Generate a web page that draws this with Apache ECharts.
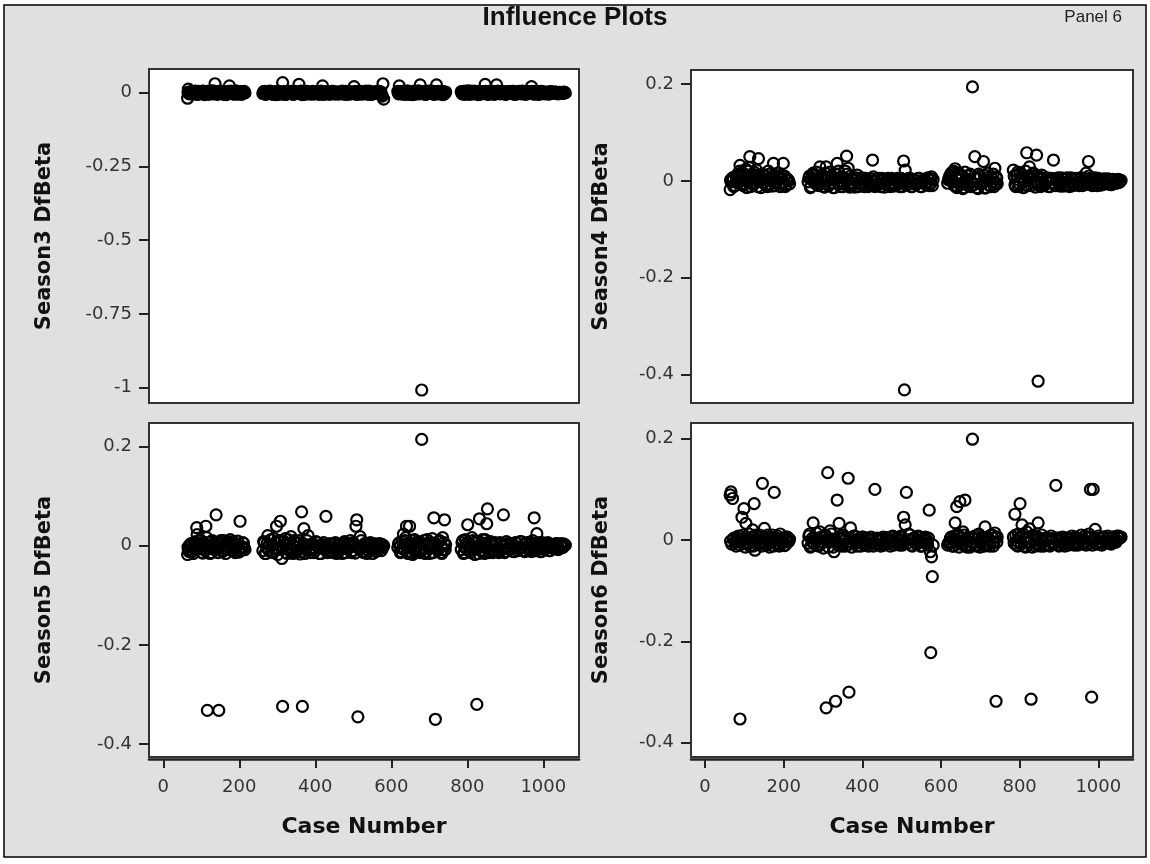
<!DOCTYPE html>
<html>
<head>
<meta charset="utf-8">
<title>Influence Plots</title>
<script src="https://cdn.jsdelivr.net/npm/echarts@6/dist/echarts.min.js"></script>
<style>
  html, body { margin: 0; padding: 0; background: #fff; }
  #chart { width: 1150px; height: 864px; }
</style>
</head>
<body>
<div id="chart"></div>
<script>
// case numbers of the observations, grouped by block of cases
const caseNumber = [
  // block 1 (38)
  64, 66, 70, 76, 82, 88, 89, 94, 99, 104, 108, 112, 114, 116, 121,
  125, 127, 131, 136, 139, 142, 146, 151, 156, 161, 166, 171, 174, 176, 181,
  186, 191, 196, 199, 202, 206, 211, 215,
  // block 2 (67)
  262, 266, 270, 275, 280, 285, 292, 298, 304, 308, 312, 314, 318, 323, 328,
  332, 336, 341, 346, 351, 357, 360, 364, 366, 370, 375, 381, 387, 393, 399,
  405, 411, 419, 426, 428, 432, 438, 444, 450, 456, 462, 468, 474, 480, 486,
  492, 498, 502, 505, 507, 509, 512, 518, 524, 530, 536, 542, 548, 554, 560,
  566, 570, 573, 574, 576, 578, 580,
  // block 3 (29)
  617, 621, 626, 632, 636, 640, 644, 648, 652, 656, 661, 666, 671, 676, 680,
  686, 691, 696, 701, 708, 712, 716, 719, 724, 730, 735, 737, 740, 743,
  // block 4 (57)
  784, 788, 792, 797, 801, 806, 812, 818, 822, 825, 829, 832, 837, 843, 847,
  851, 853, 858, 864, 870, 877, 883, 886, 892, 895, 900, 906, 912, 918, 924,
  930, 936, 942, 948, 954, 960, 966, 969, 972, 975, 976, 980, 983, 987, 992,
  997, 1003, 1009, 1015, 1021, 1027, 1033, 1039, 1045, 1051, 1055, 1058,
  // in-between cases: block 1 (26), block 2 (50), block 3 (25), block 4 (45)
  68, 73, 79, 85, 91, 97, 102, 106, 110, 118, 123, 129, 134, 144, 149,
  154, 159, 164, 169, 179, 184, 189, 194, 204, 209, 213,
  264, 268, 273, 278, 283, 289, 295, 301, 306, 316, 321, 326, 330, 339, 344,
  349, 354, 362, 368, 373, 378, 384, 390, 396, 402, 408, 415, 422, 435, 441,
  447, 453, 459, 465, 471, 477, 483, 489, 495, 500, 515, 521, 527, 533, 539,
  545, 551, 557, 563, 568,
  619, 624, 629, 634, 638, 642, 646, 650, 654, 658, 664, 669, 674, 683, 689,
  694, 699, 704, 710, 714, 722, 727, 733, 739, 742,
  786, 790, 795, 799, 804, 809, 815, 820, 827, 835, 840, 845, 849, 856, 861,
  867, 873, 880, 889, 898, 903, 909, 915, 921, 927, 933, 939, 945, 951, 957,
  963, 978, 985, 990, 995, 1000, 1006, 1012, 1018, 1024, 1030, 1036, 1042, 1048, 1053,
  // more cases: block 1 (17), block 2 (23), block 3 (10), block 4 (18)
  65, 72, 80, 87, 92, 101, 111, 119, 133, 141, 148, 158, 168, 178, 188, 198, 208,
  272, 287, 300, 310, 320, 334, 343, 355, 372, 383, 395, 407, 417, 430, 446,
  460, 476, 490, 504, 520, 535, 550, 564,
  623, 630, 647, 659, 668, 678, 693, 706, 721, 732,
  794, 810, 824, 839, 855, 868, 881, 897, 910, 926, 940, 956, 970, 988, 1001, 1017, 1032, 1047
];

const season3DfBeta = [
  -0.019, 0.012, 0.002, -0.004, 0.003, -0.006, 0.001, 0.004, -0.003, 0.005, -0.007, 0.002, -0.002, 0.004, -0.005,
  0.001, 0.006, -0.004, 0.030, 0.003, -0.006, 0.002, 0.005, -0.003, 0.001, -0.007, 0.004, 0.023, -0.002, 0.003,
  -0.005, 0.006, 0.000, -0.004, 0.002, -0.006, 0.003, -0.001,

  -0.003, 0.004, -0.006, 0.002, 0.005, -0.004, 0.001, -0.007, 0.004, 0.000, -0.005, 0.034, 0.003, -0.006, 0.005,
  -0.002, 0.002, -0.006, 0.004, -0.001, 0.028, -0.004, 0.003, -0.007, 0.005, -0.002, 0.001, -0.005, 0.004, -0.003,
  0.002, -0.006, 0.023, 0.003, -0.004, 0.001, -0.006, 0.004, -0.002, 0.002, -0.005, 0.003, -0.001, 0.004, -0.006,
  0.002, -0.003, 0.020, -0.004, 0.003, -0.006, 0.001, 0.004, -0.005, 0.002, -0.002, 0.005, -0.006, 0.001, -0.003,
  0.004, -0.004, 0.002, -0.008, -0.012, 0.030, -0.022,

  0.004, 0.023, -0.003, 0.005, -0.006, 0.002, 0.005, -0.004, 0.003, -0.007, 0.004, -0.002, 0.006, 0.026, -1.008,
  0.003, -0.006, 0.004, -0.002, 0.005, -0.006, 0.002, 0.026, -0.004, 0.004, -0.007, 0.003, -0.003, 0.002,

  0.003, -0.005, 0.004, -0.002, 0.006, -0.006, 0.002, 0.005, -0.004, 0.001, -0.007, 0.004, -0.002, 0.003, 0.028,
  -0.005, 0.002, -0.003, 0.005, -0.006, 0.026, 0.002, -0.004, 0.004, -0.001, -0.006, 0.003, -0.003, 0.004, -0.006,
  0.001, 0.004, -0.004, 0.002, -0.006, 0.003, -0.002, 0.020, 0.004, -0.005, 0.002, -0.003, 0.004, -0.006, 0.001,
  0.003, -0.004, 0.002, -0.005, 0.003, -0.002, 0.002, -0.004, 0.001, -0.003, 0.002, -0.001,

  -0.004, 0.003, -0.001, 0.005, -0.006, 0.002, -0.003, 0.004, 0.000, -0.005, 0.003, -0.002, 0.005, -0.004, 0.001,
  0.004, -0.006, 0.002, -0.002, 0.005, -0.004, 0.001, -0.005, 0.003, -0.002, 0.004,
  0.003, -0.005, 0.001, -0.003, 0.004, -0.006, 0.002, 0.005, -0.004, 0.000, -0.006, 0.003, -0.002, 0.004, -0.005,
  0.002, -0.003, 0.005, -0.001, -0.006, 0.004, -0.002, 0.001, -0.005, 0.003, -0.004, 0.005, -0.006, 0.002, -0.001,
  0.004, -0.005, 0.002, -0.003, 0.005, -0.006, 0.001, 0.003, -0.004, 0.002, -0.005, 0.003, -0.002, 0.005, -0.006,
  0.001, -0.004, 0.003, -0.002, 0.004,
  -0.004, 0.002, -0.005, 0.003, -0.001, 0.005, -0.006, 0.002, -0.003, 0.004, -0.005, 0.001, -0.004, 0.003, -0.006,
  0.002, 0.005, -0.003, 0.001, -0.005, 0.004, -0.002, 0.003, -0.005, 0.001,
  -0.003, 0.004, -0.006, 0.002, -0.002, 0.005, -0.004, 0.001, 0.003, -0.005, 0.002, -0.003, 0.004, -0.006, 0.001,
  0.003, -0.004, 0.005, -0.002, 0.002, -0.005, 0.003, -0.001, 0.004, -0.006, 0.002, -0.003, 0.005, -0.004, 0.001,
  0.003, -0.004, 0.002, -0.005, 0.004, -0.002, 0.001, -0.004, 0.003, -0.002, 0.002, -0.003, 0.001, -0.002, 0.001,

  0.001, -0.002, 0.003, -0.001, 0.002, -0.003, 0.000, 0.002, -0.002, 0.003, -0.001, 0.001, -0.003, 0.002, 0.000,
  -0.002, 0.001,
  -0.001, 0.002, -0.003, 0.001, 0.003, -0.002, 0.000, 0.002, -0.003, 0.001, -0.001, 0.003, -0.002, 0.000, 0.002,
  -0.003, 0.001, -0.002, 0.003, -0.001, 0.001, -0.002, 0.000,
  0.001, -0.002, 0.002, -0.001, 0.003, -0.002, 0.000, 0.002, -0.003, 0.001,
  -0.001, 0.002, -0.002, 0.001, 0.003, -0.002, 0.000, 0.002, -0.003, 0.001, -0.001, 0.002, -0.002, 0.000, 0.001,
  -0.001, 0.001, 0.000
];

const season4DfBeta = [
  -0.018, -0.002, 0.006, -0.010, 0.012, 0.020, 0.032, -0.006, 0.015, 0.024, 0.004, 0.028, 0.050, -0.012, 0.010,
  0.018, -0.004, 0.022, 0.046, 0.008, -0.014, 0.014, 0.002, -0.008, 0.020, 0.006, -0.011, 0.036, 0.012, -0.004,
  0.016, -0.012, 0.004, 0.036, 0.010, -0.008, 0.002, -0.006,

  -0.002, 0.010, -0.012, 0.016, 0.004, -0.008, 0.029, 0.012, -0.013, 0.029, 0.006, -0.010, 0.018, 0.002, -0.014,
  0.014, 0.036, -0.006, 0.008, -0.012, 0.020, 0.051, 0.026, -0.010, 0.010, 0.003, -0.013, 0.012, -0.004, 0.006,
  -0.012, 0.004, -0.008, 0.043, 0.008, -0.012, 0.004, -0.006, 0.005, -0.013, 0.002, -0.008, 0.005, -0.011, 0.003,
  -0.006, 0.005, -0.012, 0.041, -0.432, 0.022, -0.004, 0.005, -0.012, 0.003, -0.007, 0.005, -0.012, 0.002, -0.006,
  0.006, -0.010, 0.004, -0.005, 0.008, -0.010, 0.003,

  -0.005, 0.008, 0.016, 0.020, 0.025, -0.014, 0.012, -0.008, 0.004, -0.016, 0.018, -0.004, 0.010, -0.012, 0.194,
  0.050, -0.014, 0.014, -0.006, 0.040, -0.015, 0.006, 0.016, -0.010, 0.004, -0.012, 0.026, 0.008, -0.006,

  0.022, -0.008, 0.012, -0.012, 0.016, 0.004, -0.013, 0.058, 0.010, 0.029, -0.010, 0.014, -0.004, 0.053, -0.414,
  0.008, -0.012, 0.004, -0.008, 0.006, -0.012, 0.004, 0.043, -0.010, 0.005, -0.006, 0.006, -0.011, 0.005, -0.008,
  0.006, -0.010, 0.005, -0.006, 0.006, -0.010, 0.004, 0.016, -0.006, 0.040, 0.010, -0.008, 0.004, -0.006, 0.006,
  -0.010, 0.002, -0.008, 0.004, -0.006, 0.003, -0.008, 0.002, -0.005, 0.003, -0.002, 0.001,

  0.004, -0.012, 0.010, -0.004, 0.016, -0.010, 0.008, -0.014, 0.020, 0.002, -0.008, 0.012, -0.012, 0.006, -0.004,
  0.010, -0.012, 0.014, 0.000, -0.010, 0.008, -0.006, 0.012, -0.012, 0.004, 0.000,
  0.006, -0.014, 0.012, -0.004, 0.018, -0.010, 0.004, -0.012, 0.016, -0.008, 0.010, -0.014, 0.002, 0.020, -0.012,
  0.006, -0.006, 0.014, -0.013, 0.004, -0.008, 0.006, -0.012, 0.002, -0.006, 0.005, -0.012, 0.004, -0.008, 0.005,
  -0.012, 0.003, -0.006, 0.005, -0.012, 0.002, -0.008, 0.005, -0.012, 0.004, -0.008, 0.005, -0.012, 0.002, -0.006,
  0.005, -0.012, 0.003, -0.008, 0.004,
  0.002, 0.012, 0.018, -0.010, 0.006, -0.012, 0.016, -0.006, 0.010, -0.014, 0.004, -0.010, 0.014, -0.008, 0.006,
  -0.016, 0.010, -0.004, 0.012, -0.014, 0.002, -0.012, 0.014, -0.004, 0.006,
  0.010, -0.012, 0.018, -0.006, 0.008, -0.014, 0.020, -0.010, 0.006, 0.016, -0.013, 0.010, -0.006, 0.012, -0.010,
  0.004, -0.012, 0.005, -0.008, 0.006, -0.011, 0.004, -0.008, 0.006, -0.012, 0.005, -0.006, 0.004, -0.010, 0.006,
  -0.008, 0.005, -0.010, 0.004, -0.006, 0.005, -0.009, 0.003, -0.006, 0.004, -0.007, 0.003, -0.005, 0.002, -0.003,

  0.002, 0.006, -0.003, 0.008, 0.001, 0.004, -0.002, 0.007, 0.000, 0.005, -0.004, 0.003, 0.006, -0.001, 0.004,
  -0.003, 0.002,
  0.003, -0.002, 0.006, 0.001, -0.004, 0.005, 0.000, 0.003, -0.003, 0.002, -0.005, 0.000, -0.003, -0.002, -0.004,
  -0.001, -0.004, -0.002, -0.005, -0.001, -0.004, -0.003, -0.002,
  0.004, -0.002, 0.003, -0.005, 0.002, -0.003, 0.004, -0.004, 0.001, -0.002,
  0.003, -0.002, 0.005, 0.000, -0.003, -0.002, -0.004, -0.001, -0.003, -0.002, -0.004, -0.001, -0.003, -0.002, -0.003,
  -0.001, -0.002, -0.001
];

const season5DfBeta = [
  -0.018, -0.008, 0.002, -0.012, 0.006, 0.036, 0.022, -0.004, 0.010, -0.015, 0.004, 0.039, 0.016, -0.332, -0.006,
  0.008, -0.014, 0.003, -0.009, 0.062, 0.005, -0.332, 0.010, -0.012, 0.002, -0.007, 0.008, -0.004, 0.012, -0.010,
  0.004, -0.006, 0.009, -0.013, 0.049, -0.003, 0.005, -0.008,

  -0.010, 0.006, -0.016, 0.020, 0.002, -0.012, 0.014, 0.039, -0.008, 0.049, -0.026, -0.324, 0.008, -0.014, 0.012,
  -0.004, 0.018, -0.016, 0.006, -0.010, 0.010, -0.017, 0.068, -0.324, 0.034, -0.006, 0.020, -0.014, 0.004, -0.010,
  0.006, -0.016, 0.002, -0.008, 0.059, -0.014, 0.004, -0.011, 0.003, -0.016, 0.001, -0.008, 0.004, -0.014, 0.002,
  0.010, -0.010, 0.004, -0.015, 0.039, 0.052, -0.345, 0.018, -0.012, 0.004, -0.016, 0.002, -0.008, 0.004, -0.012,
  0.001, -0.006, 0.003, -0.010, 0.002, -0.004, 0.000,

  -0.004, 0.006, -0.012, 0.023, 0.010, 0.039, -0.016, 0.039, 0.004, -0.018, 0.012, -0.008, 0.006, -0.014, 0.214,
  0.010, -0.012, 0.004, -0.016, 0.014, 0.056, -0.350, -0.006, 0.008, -0.014, 0.016, -0.008, 0.052, 0.002,

  -0.008, 0.010, -0.014, 0.004, 0.042, -0.010, 0.016, -0.006, 0.008, -0.320, -0.016, 0.054, 0.006, -0.012, 0.012,
  0.044, 0.074, -0.014, 0.004, -0.010, 0.002, -0.014, 0.006, -0.008, 0.062, -0.012, 0.004, -0.008, 0.002, -0.012,
  0.006, -0.006, 0.008, -0.010, 0.003, -0.006, 0.006, -0.012, 0.010, -0.004, 0.056, -0.010, 0.024, 0.004, -0.012,
  0.006, -0.008, 0.004, -0.010, 0.002, -0.006, 0.004, -0.008, 0.002, -0.004, 0.003, 0.001,

  -0.012, 0.004, -0.016, 0.008, -0.006, 0.012, -0.014, 0.002, -0.010, 0.006, -0.016, 0.010, -0.004, -0.014, 0.006,
  -0.010, 0.010, -0.016, 0.004, -0.006, 0.008, -0.014, 0.002, -0.010, 0.006, -0.004,
  0.008, -0.016, 0.004, -0.010, 0.012, -0.014, 0.006, -0.018, 0.010, -0.006, 0.014, -0.016, 0.002, -0.010, 0.010,
  -0.014, 0.006, -0.012, 0.004, -0.016, 0.010, -0.008, 0.002, -0.014, 0.008, -0.004, -0.016, 0.006, -0.010, 0.002,
  -0.014, 0.006, -0.010, 0.002, -0.016, 0.008, -0.006, 0.004, -0.014, 0.006, -0.006, 0.010, -0.014, 0.004, -0.010,
  0.006, -0.016, 0.002, -0.008, 0.004,
  0.004, -0.014, 0.008, -0.008, 0.016, -0.012, 0.004, -0.016, 0.010, -0.006, -0.014, 0.008, -0.010, 0.004, -0.016,
  0.012, -0.006, 0.006, -0.014, 0.004, -0.010, 0.010, -0.016, 0.006, -0.008,
  0.006, -0.016, 0.012, -0.008, 0.004, -0.014, 0.010, -0.018, 0.006, -0.010, 0.012, -0.016, 0.004, -0.010, 0.008,
  -0.014, 0.006, -0.010, 0.004, -0.014, 0.008, -0.006, 0.004, -0.012, 0.006, -0.010, 0.008, -0.004, -0.012, 0.006,
  -0.010, 0.004, -0.008, 0.006, -0.012, 0.004, -0.006, 0.006, -0.010, 0.002, -0.006, 0.004, -0.006, 0.004, -0.002,

  -0.003, 0.001, -0.005, 0.002, -0.002, -0.006, 0.000, -0.004, 0.003, -0.003, -0.001, -0.005, 0.002, -0.002, -0.004,
  0.001, -0.003,
  -0.004, 0.001, -0.006, -0.002, 0.002, -0.005, 0.000, -0.003, -0.006, 0.001, -0.004, -0.002, -0.005, 0.000, -0.004,
  -0.006, -0.002, -0.004, -0.001, -0.005, -0.003, -0.004, -0.002,
  -0.002, -0.006, 0.001, -0.004, -0.001, -0.005, 0.000, -0.003, -0.006, -0.002,
  -0.004, 0.000, -0.006, -0.002, -0.005, -0.001, -0.004, -0.002, -0.005, -0.001, -0.003, -0.004, -0.002, -0.004, -0.001,
  -0.003, -0.002, -0.001
];

const season6DfBeta = [
  0.089, 0.095, 0.082, -0.004, 0.004, -0.010, -0.353, 0.045, 0.062, 0.033, -0.006, 0.012, -0.012, 0.005, 0.020,
  0.072, -0.020, 0.002, -0.008, 0.010, -0.004, 0.112, 0.023, -0.010, 0.006, -0.006, 0.010, -0.012, 0.094, 0.004,
  -0.009, 0.012, -0.005, 0.003, -0.011, 0.006, -0.004, 0.002,

  -0.006, 0.012, -0.012, 0.034, 0.004, -0.010, 0.016, -0.004, 0.008, -0.331, 0.133, -0.014, 0.018, 0.002, -0.023,
  -0.318, 0.079, 0.033, -0.008, 0.010, -0.012, 0.004, 0.122, -0.300, 0.024, -0.006, 0.008, -0.012, 0.003, 0.006,
  -0.010, 0.004, -0.006, 0.002, -0.012, 0.100, 0.004, -0.008, 0.002, -0.010, 0.005, -0.004, 0.006, -0.010, 0.003,
  -0.006, 0.008, -0.010, 0.045, -0.004, 0.030, 0.094, 0.012, -0.010, 0.004, -0.006, 0.008, -0.012, 0.002, 0.006,
  -0.010, 0.059, -0.023, -0.222, -0.033, -0.072, -0.010,

  -0.010, -0.004, 0.006, -0.012, 0.034, 0.066, 0.010, 0.076, -0.008, 0.016, 0.079, -0.014, 0.004, -0.010, 0.199,
  0.008, -0.012, 0.012, -0.006, 0.004, 0.026, -0.010, 0.006, -0.012, 0.010, -0.004, 0.014, -0.318, 0.006,

  0.006, 0.051, -0.010, 0.012, 0.072, 0.030, -0.012, 0.016, -0.006, 0.022, -0.314, -0.014, 0.008, -0.008, 0.034,
  0.004, -0.012, 0.002, -0.010, 0.004, -0.012, 0.003, -0.008, 0.108, 0.004, -0.012, 0.002, -0.008, 0.004, -0.010,
  0.003, -0.006, 0.006, -0.010, 0.002, -0.006, 0.008, -0.010, 0.004, -0.008, 0.012, 0.100, -0.310, 0.100, 0.021,
  -0.008, 0.004, -0.010, 0.006, -0.006, 0.004, -0.008, 0.006, -0.004, 0.008, 0.004, 0.006,

  -0.008, 0.004, -0.012, 0.008, -0.004, 0.010, -0.014, 0.002, -0.008, 0.006, -0.012, 0.010, -0.002, -0.012, 0.006,
  -0.008, 0.010, -0.014, 0.004, -0.006, 0.008, -0.012, 0.002, -0.010, 0.006, -0.002,
  0.008, -0.014, 0.004, -0.008, 0.014, -0.012, 0.006, -0.016, 0.010, -0.004, 0.012, -0.014, 0.002, -0.010, 0.008,
  -0.012, 0.006, -0.010, 0.004, -0.014, 0.008, -0.006, 0.002, -0.012, 0.006, -0.004, -0.012, 0.006, -0.008, 0.002,
  -0.012, 0.006, -0.008, 0.002, -0.012, 0.008, -0.006, 0.004, -0.010, 0.006, -0.006, 0.010, -0.012, 0.004, -0.008,
  0.006, -0.012, 0.002, -0.006, 0.004,
  -0.006, 0.004, -0.012, 0.008, -0.004, 0.012, -0.014, 0.004, -0.008, 0.010, -0.012, 0.006, -0.014, 0.004, -0.010,
  0.010, -0.014, 0.006, -0.012, 0.004, -0.008, 0.010, -0.012, 0.006, -0.004,
  -0.006, 0.010, -0.012, 0.004, -0.008, 0.012, -0.014, 0.006, -0.004, 0.010, -0.012, 0.006, -0.008, 0.010, -0.012,
  0.004, -0.010, 0.008, -0.006, 0.004, -0.010, 0.006, -0.012, 0.004, -0.006, 0.008, -0.010, 0.004, -0.006, 0.010,
  -0.008, 0.006, -0.010, 0.004, -0.006, 0.008, -0.008, 0.006, -0.004, 0.008, -0.006, 0.006, -0.004, 0.008, 0.004,

  -0.002, 0.002, -0.004, 0.001, -0.003, 0.003, -0.005, 0.000, -0.002, 0.002, -0.004, 0.001, -0.003, 0.003, -0.001,
  -0.004, 0.000,
  -0.003, 0.002, -0.005, 0.001, -0.002, -0.004, 0.003, -0.001, -0.004, 0.000, -0.003, -0.002, 0.001, -0.004, -0.002,
  0.000, -0.003, -0.001, -0.004, 0.001, -0.002, -0.003, 0.000,
  -0.003, 0.001, -0.004, 0.000, -0.002, -0.005, 0.002, -0.003, 0.000, -0.004,
  -0.002, 0.001, -0.004, 0.000, -0.003, 0.002, -0.004, -0.001, -0.003, 0.001, -0.004, -0.001, -0.003, 0.000, -0.003,
  -0.001, -0.002, 0.000
];

const caseTicks = [0, 200, 400, 600, 800, 1000];
const season3Ticks = [0, -0.25, -0.5, -0.75, -1];
const dfbetaTicks = [0.2, 0, -0.2, -0.4];

const panels = [
  { name: 'Season3 DfBeta', values: season3DfBeta, yTicks: season3Ticks,
    box: { left: 149, top: 69, width: 430, height: 334 },
    x: [-37.6, 1093.9], y: [-1.052, 0.080], showX: false, nameGap: 94 },
  { name: 'Season4 DfBeta', values: season4DfBeta, yTicks: dfbetaTicks,
    box: { left: 691, top: 70, width: 442, height: 333 },
    x: [-35.6, 1088.2], y: [-0.459, 0.229], showX: false, nameGap: 79 },
  { name: 'Season5 DfBeta', values: season5DfBeta, yTicks: dfbetaTicks,
    box: { left: 149, top: 423, width: 430, height: 334 },
    x: [-37.6, 1093.9], y: [-0.426, 0.247], showX: true, nameGap: 94 },
  { name: 'Season6 DfBeta', values: season6DfBeta, yTicks: dfbetaTicks,
    box: { left: 691, top: 423, width: 442, height: 334 },
    x: [-35.6, 1088.2], y: [-0.428, 0.231], showX: true, nameGap: 79 }
];

const tickFont = { fontFamily: 'DejaVu Sans', fontSize: 18, color: '#333' };
const nameFont = { fontFamily: 'DejaVu Sans', fontWeight: 'bold', fontSize: 21, color: '#111' };

const chart = echarts.init(document.getElementById('chart'), null, { renderer: 'canvas' });

chart.setOption({
  animation: false,
  backgroundColor: '#fff',
  graphic: [{
    type: 'rect',
    z: -100,
    shape: { x: 4, y: 5, width: 1142, height: 852 },
    style: { fill: '#e0e0e0', stroke: '#000', lineWidth: 1.5 }
  }],
  title: [
    { text: 'Influence Plots', left: 'center', top: 5, padding: 0,
      textStyle: { fontFamily: 'Liberation Sans', fontWeight: 'bold', fontSize: 26, color: '#111' } },
    { text: 'Panel 6', right: 28, top: 9, padding: 0,
      textStyle: { fontFamily: 'Liberation Sans', fontWeight: 'normal', fontSize: 17, color: '#222' } }
  ],
  grid: panels.map(p => Object.assign({
    show: true, backgroundColor: '#fff', borderColor: '#333', borderWidth: 2, containLabel: false
  }, p.box)),
  xAxis: panels.map((p, i) => ({
    type: 'value', gridIndex: i, min: p.x[0], max: p.x[1], show: p.showX,
    offset: 2,
    splitLine: { show: false },
    axisLine: { show: true, onZero: false, lineStyle: { color: '#222', width: 2.5 } },
    axisTick: { show: true, length: 9, customValues: caseTicks, lineStyle: { color: '#222', width: 2 } },
    axisLabel: Object.assign({ customValues: caseTicks, margin: 19, formatter: v => String(v) }, tickFont),
    name: 'Case Number', nameLocation: 'middle', nameGap: 57,
    nameTextStyle: Object.assign({}, nameFont, { fontSize: 22 })
  })),
  yAxis: panels.map((p, i) => ({
    type: 'value', gridIndex: i, min: p.y[0], max: p.y[1],
    splitLine: { show: false },
    axisLine: { show: true, onZero: false, lineStyle: { color: '#333', width: 2 } },
    axisTick: { show: true, length: 10, customValues: p.yTicks, lineStyle: { color: '#222', width: 2 } },
    axisLabel: Object.assign({ customValues: p.yTicks, margin: 17, formatter: v => String(v) }, tickFont),
    name: p.name, nameLocation: 'middle', nameGap: p.nameGap, nameTextStyle: nameFont
  })),
  series: panels.map((p, i) => ({
    type: 'scatter', xAxisIndex: i, yAxisIndex: i,
    symbol: 'circle', symbolSize: 11,
    itemStyle: { color: 'rgba(0,0,0,0)', borderColor: '#000', borderWidth: 2.2, opacity: 1 },
    emphasis: { disabled: true },
    data: caseNumber.map((c, k) => [c, p.values[k]])
  }))
});
</script>
</body>
</html>
